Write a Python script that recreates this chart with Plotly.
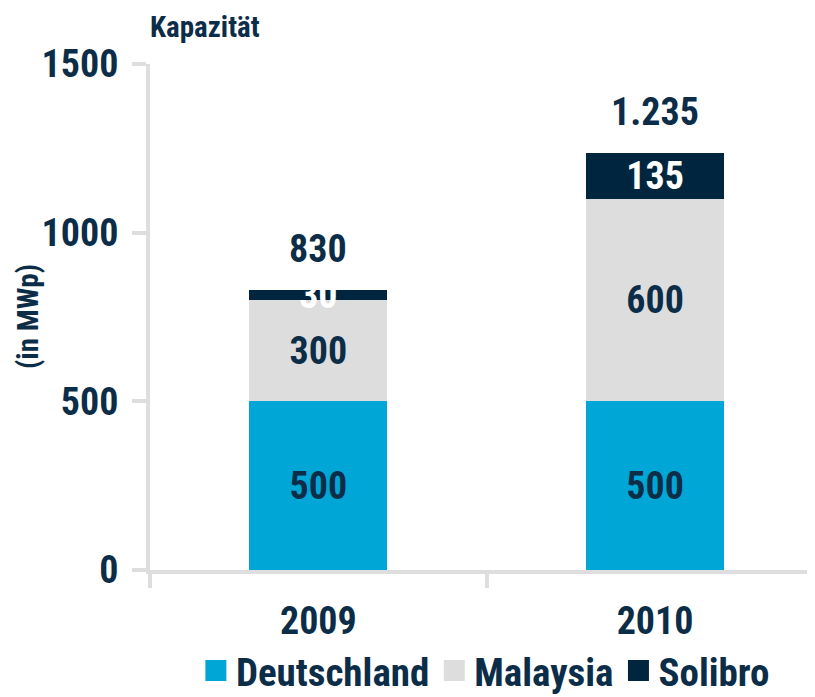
import plotly.graph_objects as go

years = ["2009", "2010"]
deutschland = [500, 500]
malaysia = [300, 600]
solibro = [30, 135]
series_names = ["Deutschland", "Malaysia", "Solibro"]
y_ticks = [0, 500, 1000, 1500]

totals = [d + m + s for d, m, s in zip(deutschland, malaysia, solibro)]
total_labels = [f"{t:,}".replace(",", ".") for t in totals]

FONT = "Liberation Sans Narrow, Arial Narrow, Roboto Condensed, Liberation Sans, sans-serif"
NAVY = "#0c2d48"
BLUE = "#00a6d6"
GREY = "#dddddd"
DARK = "#00263f"
AXIS = "#dedede"
FS = 38

def f(size=FS, color=NAVY):
    return dict(family=FONT, size=size, color=color, weight="bold")

fig = go.Figure()
for name, vals, col, tcol in [
    (series_names[0], deutschland, BLUE, NAVY),
    (series_names[1], malaysia, GREY, NAVY),
    (series_names[2], solibro, DARK, "white"),
]:
    fig.add_trace(go.Bar(
        x=years, y=vals, name=name, marker=dict(color=col, line=dict(width=0)),
        width=0.41, text=[str(v) for v in vals], textposition="inside",
        insidetextanchor="middle", textangle=0, constraintext="none",
        textfont=f(FS, tcol), showlegend=False, hoverinfo="skip",
    ))
    fig.add_trace(go.Scatter(
        x=[None], y=[None], mode="markers", name=name,
        marker=dict(symbol="square", size=16, color=col, line=dict(color=col, width=5)),
    ))

annotations = [
    dict(x=i, y=t, xref="x", yref="y", text=lbl, showarrow=False,
         xanchor="center", yanchor="middle", yshift=41, font=f())
    for i, (t, lbl) in enumerate(zip(totals, total_labels))
]
annotations += [
    dict(text="Kapazität", xref="paper", yref="paper", x=-0.003, y=1.0,
         xanchor="left", yanchor="bottom", yshift=18, showarrow=False, font=f(29)),
    dict(text="(in MWp)", xref="paper", yref="paper", x=(20 - 142) / 665,
         y=0.5, xanchor="center", yanchor="middle", textangle=-90, showarrow=False,
         font=f(29)),
]

# page body has an 8px margin: figure is drawn 8px smaller and offset
fig.update_layout(
    barmode="stack",
    width=807, height=689,
    margin=dict(l=142, r=0, t=56, b=127, autoexpand=False),
    plot_bgcolor="white", paper_bgcolor="white",
    font=dict(family=FONT, color=NAVY, size=FS),
    showlegend=True,
    legend=dict(orientation="h", traceorder="normal", x=0.069, xanchor="left",
                y=-0.199, yanchor="middle", font=f(39), itemsizing="trace",
                bgcolor="rgba(0,0,0,0)"),
    xaxis=dict(type="category", range=[-0.5, 1.475], showgrid=False, zeroline=False,
               showline=True, linecolor=AXIS, linewidth=4, ticks="outside",
               tickson="boundaries", ticklen=14, tickwidth=4, tickcolor=AXIS,
               tickfont=f(), automargin=False, ticklabelstandoff=14),
    yaxis=dict(range=[0, 1500], tickvals=y_ticks, showgrid=False, zeroline=False,
               showline=True, linecolor=AXIS, linewidth=4, ticks="outside",
               ticklen=14, tickwidth=4, tickcolor=AXIS, tickfont=f(), automargin=False,
               ticklabelstandoff=6),
    annotations=annotations,
)

fig.write_html("out.html")
